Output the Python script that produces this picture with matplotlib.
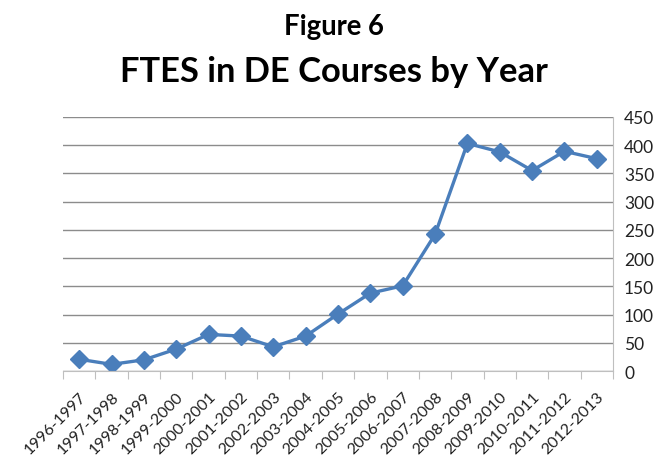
import matplotlib.pyplot as plt
import numpy as np

years = ["1996-1997", "1997-1998", "1998-1999", "1999-2000", "2000-2001",
         "2001-2002", "2002-2003", "2003-2004", "2004-2005", "2005-2006",
         "2006-2007", "2007-2008", "2008-2009", "2009-2010", "2010-2011",
         "2011-2012", "2012-2013"]
ftes = [21, 12, 20, 39, 65, 62, 43, 62, 101, 138, 151, 242, 403, 388, 355, 389, 376]

plt.rcParams['font.family'] = ['Lato', 'DejaVu Sans']

fig = plt.figure(figsize=(6.67, 4.64), dpi=100)
ax = fig.add_axes([0.0945, 0.198, 0.8245, 0.548])

x = np.arange(len(years))
ax.plot(x, ftes, '-', color='#4A7EBB', lw=2.4, marker='D', markersize=9,
        markerfacecolor='#4A7EBB', markeredgecolor='#4A7EBB')

ax.set_xlim(-0.5, len(years) - 0.5)
ax.set_ylim(0, 450)
ax.set_yticks(np.arange(0, 451, 50))
ax.yaxis.tick_right()
ax.grid(True, axis='y', color='#8C8C8C', lw=1)
ax.set_axisbelow(True)

for s in ['left', 'top']:
    ax.spines[s].set_visible(False)
ax.spines['right'].set_color('#BFBFBF')
ax.spines['bottom'].set_color('#BFBFBF')

# category ticks sit between the points, like Excel
ax.set_xticks(np.arange(-0.5, len(years), 1.0))
ax.set_xticklabels([])
ax.set_xticks(x, minor=True)
ax.set_xticklabels(years, minor=True, rotation=45, ha='right',
                   rotation_mode='anchor', fontsize=11.5, color='#222222')
ax.tick_params(axis='x', which='major', length=6, color='#BFBFBF', direction='out')
ax.tick_params(axis='x', which='minor', length=0, pad=13)
ax.tick_params(axis='y', length=0, labelsize=12.5, pad=8, labelcolor='#222222')

fig.text(0.5, 0.9246, "Figure 6", ha='center', va='baseline', fontsize=19.8, fontweight='bold')
fig.text(0.5, 0.823, "FTES in DE Courses by Year", ha='center', va='baseline',
         fontsize=24.8, fontweight='bold')

plt.savefig("out.png")
